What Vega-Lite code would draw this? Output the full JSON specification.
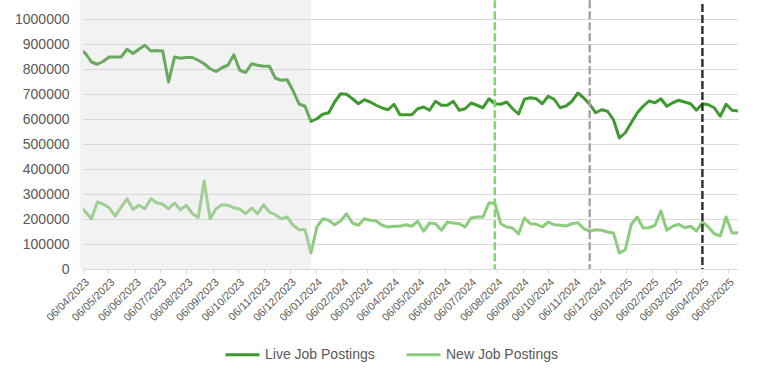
{
  "$schema": "https://vega.github.io/schema/vega-lite/v6.json",
  "width": 655,
  "height": 250,
  "autosize": {"type": "none"},
  "padding": {"left": 83, "top": 19, "right": 30, "bottom": 110},
  "background": "#ffffff",
  "config": {
    "font": "Liberation Sans",
    "view": {"stroke": null},
    "axisX": {"labelOverlap": false, "labelFlush": false},
    "axisY": {"labelOverlap": false}
  },
  "datasets": {
    "weekly": [
      {"date": "2023-04-02", "Live Job Postings": 880000, "New Job Postings": 255000},
      {"date": "2023-04-09", "Live Job Postings": 862000, "New Job Postings": 228000},
      {"date": "2023-04-16", "Live Job Postings": 828000, "New Job Postings": 201000},
      {"date": "2023-04-23", "Live Job Postings": 819000, "New Job Postings": 268000},
      {"date": "2023-04-30", "Live Job Postings": 831000, "New Job Postings": 259000},
      {"date": "2023-05-07", "Live Job Postings": 848000, "New Job Postings": 245000},
      {"date": "2023-05-14", "Live Job Postings": 848000, "New Job Postings": 211000},
      {"date": "2023-05-21", "Live Job Postings": 848000, "New Job Postings": 248000},
      {"date": "2023-05-28", "Live Job Postings": 879000, "New Job Postings": 281000},
      {"date": "2023-06-04", "Live Job Postings": 862000, "New Job Postings": 238000},
      {"date": "2023-06-11", "Live Job Postings": 879000, "New Job Postings": 255000},
      {"date": "2023-06-18", "Live Job Postings": 895000, "New Job Postings": 241000},
      {"date": "2023-06-25", "Live Job Postings": 872000, "New Job Postings": 281000},
      {"date": "2023-07-02", "Live Job Postings": 874000, "New Job Postings": 265000},
      {"date": "2023-07-09", "Live Job Postings": 872000, "New Job Postings": 259000},
      {"date": "2023-07-16", "Live Job Postings": 748000, "New Job Postings": 241000},
      {"date": "2023-07-23", "Live Job Postings": 848000, "New Job Postings": 264000},
      {"date": "2023-07-30", "Live Job Postings": 843000, "New Job Postings": 237000},
      {"date": "2023-08-06", "Live Job Postings": 846000, "New Job Postings": 255000},
      {"date": "2023-08-13", "Live Job Postings": 846000, "New Job Postings": 222000},
      {"date": "2023-08-20", "Live Job Postings": 835000, "New Job Postings": 206000},
      {"date": "2023-08-27", "Live Job Postings": 821000, "New Job Postings": 352000},
      {"date": "2023-09-03", "Live Job Postings": 801000, "New Job Postings": 201000},
      {"date": "2023-09-10", "Live Job Postings": 790000, "New Job Postings": 241000},
      {"date": "2023-09-17", "Live Job Postings": 805000, "New Job Postings": 257000},
      {"date": "2023-09-24", "Live Job Postings": 815000, "New Job Postings": 255000},
      {"date": "2023-10-01", "Live Job Postings": 857000, "New Job Postings": 245000},
      {"date": "2023-10-08", "Live Job Postings": 795000, "New Job Postings": 240000},
      {"date": "2023-10-15", "Live Job Postings": 786000, "New Job Postings": 221000},
      {"date": "2023-10-22", "Live Job Postings": 821000, "New Job Postings": 244000},
      {"date": "2023-10-29", "Live Job Postings": 815000, "New Job Postings": 221000},
      {"date": "2023-11-05", "Live Job Postings": 811000, "New Job Postings": 257000},
      {"date": "2023-11-12", "Live Job Postings": 811000, "New Job Postings": 228000},
      {"date": "2023-11-19", "Live Job Postings": 763000, "New Job Postings": 217000},
      {"date": "2023-11-26", "Live Job Postings": 755000, "New Job Postings": 201000},
      {"date": "2023-12-03", "Live Job Postings": 757000, "New Job Postings": 208000},
      {"date": "2023-12-10", "Live Job Postings": 712000, "New Job Postings": 175000},
      {"date": "2023-12-17", "Live Job Postings": 660000, "New Job Postings": 157000},
      {"date": "2023-12-24", "Live Job Postings": 651000, "New Job Postings": 157000},
      {"date": "2023-12-31", "Live Job Postings": 590000, "New Job Postings": 64000},
      {"date": "2024-01-07", "Live Job Postings": 601000, "New Job Postings": 168000},
      {"date": "2024-01-14", "Live Job Postings": 619000, "New Job Postings": 201000},
      {"date": "2024-01-21", "Live Job Postings": 625000, "New Job Postings": 195000},
      {"date": "2024-01-28", "Live Job Postings": 668000, "New Job Postings": 177000},
      {"date": "2024-02-04", "Live Job Postings": 701000, "New Job Postings": 192000},
      {"date": "2024-02-11", "Live Job Postings": 699000, "New Job Postings": 221000},
      {"date": "2024-02-18", "Live Job Postings": 681000, "New Job Postings": 184000},
      {"date": "2024-02-25", "Live Job Postings": 661000, "New Job Postings": 175000},
      {"date": "2024-03-03", "Live Job Postings": 677000, "New Job Postings": 201000},
      {"date": "2024-03-10", "Live Job Postings": 668000, "New Job Postings": 195000},
      {"date": "2024-03-17", "Live Job Postings": 655000, "New Job Postings": 192000},
      {"date": "2024-03-24", "Live Job Postings": 644000, "New Job Postings": 175000},
      {"date": "2024-03-31", "Live Job Postings": 637000, "New Job Postings": 168000},
      {"date": "2024-04-07", "Live Job Postings": 659000, "New Job Postings": 171000},
      {"date": "2024-04-14", "Live Job Postings": 617000, "New Job Postings": 171000},
      {"date": "2024-04-21", "Live Job Postings": 617000, "New Job Postings": 177000},
      {"date": "2024-04-28", "Live Job Postings": 617000, "New Job Postings": 171000},
      {"date": "2024-05-05", "Live Job Postings": 641000, "New Job Postings": 191000},
      {"date": "2024-05-12", "Live Job Postings": 648000, "New Job Postings": 151000},
      {"date": "2024-05-19", "Live Job Postings": 635000, "New Job Postings": 184000},
      {"date": "2024-05-26", "Live Job Postings": 671000, "New Job Postings": 181000},
      {"date": "2024-06-02", "Live Job Postings": 655000, "New Job Postings": 155000},
      {"date": "2024-06-09", "Live Job Postings": 655000, "New Job Postings": 188000},
      {"date": "2024-06-16", "Live Job Postings": 671000, "New Job Postings": 184000},
      {"date": "2024-06-23", "Live Job Postings": 635000, "New Job Postings": 181000},
      {"date": "2024-06-30", "Live Job Postings": 641000, "New Job Postings": 168000},
      {"date": "2024-07-07", "Live Job Postings": 664000, "New Job Postings": 204000},
      {"date": "2024-07-14", "Live Job Postings": 655000, "New Job Postings": 208000},
      {"date": "2024-07-21", "Live Job Postings": 645000, "New Job Postings": 208000},
      {"date": "2024-07-28", "Live Job Postings": 681000, "New Job Postings": 264000},
      {"date": "2024-08-04", "Live Job Postings": 661000, "New Job Postings": 264000},
      {"date": "2024-08-11", "Live Job Postings": 659000, "New Job Postings": 181000},
      {"date": "2024-08-18", "Live Job Postings": 668000, "New Job Postings": 168000},
      {"date": "2024-08-25", "Live Job Postings": 641000, "New Job Postings": 164000},
      {"date": "2024-09-01", "Live Job Postings": 620000, "New Job Postings": 141000},
      {"date": "2024-09-08", "Live Job Postings": 679000, "New Job Postings": 204000},
      {"date": "2024-09-15", "Live Job Postings": 685000, "New Job Postings": 181000},
      {"date": "2024-09-22", "Live Job Postings": 681000, "New Job Postings": 179000},
      {"date": "2024-09-29", "Live Job Postings": 661000, "New Job Postings": 168000},
      {"date": "2024-10-06", "Live Job Postings": 691000, "New Job Postings": 188000},
      {"date": "2024-10-13", "Live Job Postings": 679000, "New Job Postings": 177000},
      {"date": "2024-10-20", "Live Job Postings": 645000, "New Job Postings": 175000},
      {"date": "2024-10-27", "Live Job Postings": 652000, "New Job Postings": 172000},
      {"date": "2024-11-03", "Live Job Postings": 671000, "New Job Postings": 181000},
      {"date": "2024-11-10", "Live Job Postings": 704000, "New Job Postings": 185000},
      {"date": "2024-11-17", "Live Job Postings": 684000, "New Job Postings": 161000},
      {"date": "2024-11-24", "Live Job Postings": 659000, "New Job Postings": 152000},
      {"date": "2024-12-01", "Live Job Postings": 625000, "New Job Postings": 157000},
      {"date": "2024-12-08", "Live Job Postings": 637000, "New Job Postings": 155000},
      {"date": "2024-12-15", "Live Job Postings": 631000, "New Job Postings": 148000},
      {"date": "2024-12-22", "Live Job Postings": 597000, "New Job Postings": 144000},
      {"date": "2024-12-29", "Live Job Postings": 524000, "New Job Postings": 64000},
      {"date": "2025-01-05", "Live Job Postings": 545000, "New Job Postings": 77000},
      {"date": "2025-01-12", "Live Job Postings": 585000, "New Job Postings": 178000},
      {"date": "2025-01-19", "Live Job Postings": 624000, "New Job Postings": 208000},
      {"date": "2025-01-26", "Live Job Postings": 651000, "New Job Postings": 164000},
      {"date": "2025-02-02", "Live Job Postings": 672000, "New Job Postings": 165000},
      {"date": "2025-02-09", "Live Job Postings": 665000, "New Job Postings": 175000},
      {"date": "2025-02-16", "Live Job Postings": 681000, "New Job Postings": 232000},
      {"date": "2025-02-23", "Live Job Postings": 651000, "New Job Postings": 155000},
      {"date": "2025-03-02", "Live Job Postings": 665000, "New Job Postings": 171000},
      {"date": "2025-03-09", "Live Job Postings": 675000, "New Job Postings": 179000},
      {"date": "2025-03-16", "Live Job Postings": 668000, "New Job Postings": 165000},
      {"date": "2025-03-23", "Live Job Postings": 661000, "New Job Postings": 171000},
      {"date": "2025-03-30", "Live Job Postings": 635000, "New Job Postings": 152000},
      {"date": "2025-04-06", "Live Job Postings": 661000, "New Job Postings": 188000},
      {"date": "2025-04-13", "Live Job Postings": 657000, "New Job Postings": 168000},
      {"date": "2025-04-20", "Live Job Postings": 645000, "New Job Postings": 141000},
      {"date": "2025-04-27", "Live Job Postings": 611000, "New Job Postings": 132000},
      {"date": "2025-05-04", "Live Job Postings": 659000, "New Job Postings": 208000},
      {"date": "2025-05-11", "Live Job Postings": 635000, "New Job Postings": 144000},
      {"date": "2025-05-18", "Live Job Postings": 632000, "New Job Postings": 145000}
    ],
    "shade": [{"date": "2023-04-02", "end": "2023-12-31"}]
  },
  "encoding": {
    "x": {
      "field": "date", "type": "temporal",
      "scale": {"type": "utc", "domain": [{"year": 2023, "month": 4, "date": 6, "utc": true}, {"year": 2025, "month": 5, "date": 18, "utc": true}], "nice": false},
      "axis": {
        "title": null,
        "values": [
          {"year": 2023, "month": 4, "date": 6, "utc": true},
          {"year": 2023, "month": 5, "date": 6, "utc": true},
          {"year": 2023, "month": 6, "date": 6, "utc": true},
          {"year": 2023, "month": 7, "date": 6, "utc": true},
          {"year": 2023, "month": 8, "date": 6, "utc": true},
          {"year": 2023, "month": 9, "date": 6, "utc": true},
          {"year": 2023, "month": 10, "date": 6, "utc": true},
          {"year": 2023, "month": 11, "date": 6, "utc": true},
          {"year": 2023, "month": 12, "date": 6, "utc": true},
          {"year": 2024, "month": 1, "date": 6, "utc": true},
          {"year": 2024, "month": 2, "date": 6, "utc": true},
          {"year": 2024, "month": 3, "date": 6, "utc": true},
          {"year": 2024, "month": 4, "date": 6, "utc": true},
          {"year": 2024, "month": 5, "date": 6, "utc": true},
          {"year": 2024, "month": 6, "date": 6, "utc": true},
          {"year": 2024, "month": 7, "date": 6, "utc": true},
          {"year": 2024, "month": 8, "date": 6, "utc": true},
          {"year": 2024, "month": 9, "date": 6, "utc": true},
          {"year": 2024, "month": 10, "date": 6, "utc": true},
          {"year": 2024, "month": 11, "date": 6, "utc": true},
          {"year": 2024, "month": 12, "date": 6, "utc": true},
          {"year": 2025, "month": 1, "date": 6, "utc": true},
          {"year": 2025, "month": 2, "date": 6, "utc": true},
          {"year": 2025, "month": 3, "date": 6, "utc": true},
          {"year": 2025, "month": 4, "date": 6, "utc": true},
          {"year": 2025, "month": 5, "date": 6, "utc": true}
        ],
        "labelExpr": "utcFormat(datum.value, '%d/%m/%Y')",
        "labelAngle": -45, "labelFontSize": 11, "labelColor": "#595959",
        "labelOverlap": false, "labelFlush": false, "labelPadding": 3,
        "domainColor": "#d9d9d9", "domainWidth": 1,
        "tickColor": "#d9d9d9", "tickSize": 4, "grid": false
      }
    }
  },
  "layer": [
    {
      "data": {"name": "weekly"},
      "transform": [{"fold": ["Live Job Postings", "New Job Postings"], "as": ["series", "value"]}],
      "mark": {"type": "line", "strokeWidth": 3, "clip": true, "strokeJoin": "round"},
      "encoding": {
        "y": {
          "field": "value", "type": "quantitative",
          "scale": {"domain": [0, 1000000], "nice": false},
          "axis": {
            "title": null,
            "values": [0, 100000, 200000, 300000, 400000, 500000, 600000, 700000, 800000, 900000, 1000000],
            "format": "d", "labelFontSize": 14, "labelColor": "#595959", "labelPadding": 14,
            "labelOverlap": false,
            "domain": false, "ticks": false, "grid": true, "gridColor": "#d9d9d9", "gridWidth": 1
          }
        },
        "color": {
          "field": "series", "type": "nominal",
          "scale": {"domain": ["Live Job Postings", "New Job Postings"], "range": ["#3e9a2f", "#8dcc7d"]},
          "legend": {
            "title": null, "orient": "none", "legendX": 141, "legendY": 317,
            "direction": "horizontal", "symbolType": "stroke", "symbolSize": 1156,
            "symbolStrokeWidth": 3, "labelFontSize": 14, "labelColor": "#595959",
            "columnPadding": 25, "labelOffset": 4
          }
        }
      }
    },
    {
      "data": {"name": "shade"},
      "mark": {"type": "rect", "color": "#d2d2d2", "opacity": 0.29},
      "encoding": {
        "x2": {"field": "end"},
        "y": {
          "datum": 1075000, "type": "quantitative",
          "axis": {
            "title": null,
            "values": [0, 100000, 200000, 300000, 400000, 500000, 600000, 700000, 800000, 900000, 1000000],
            "format": "d", "labelFontSize": 14, "labelColor": "#595959", "labelPadding": 14,
            "labelOverlap": false,
            "domain": false, "ticks": false, "grid": true, "gridColor": "#d9d9d9", "gridWidth": 1
          }
        },
        "y2": {"datum": 0}
      }
    },
    {
      "data": {"values": [{"date": "2024-08-04"}]},
      "mark": {"type": "rule", "color": "#7fd66b", "strokeWidth": 2.5, "strokeDash": [8, 3]},
      "encoding": {
        "y": {
          "datum": 1075000, "type": "quantitative",
          "axis": {
            "title": null,
            "values": [0, 100000, 200000, 300000, 400000, 500000, 600000, 700000, 800000, 900000, 1000000],
            "format": "d", "labelFontSize": 14, "labelColor": "#595959", "labelPadding": 14,
            "labelOverlap": false,
            "domain": false, "ticks": false, "grid": true, "gridColor": "#d9d9d9", "gridWidth": 1
          }
        },
        "y2": {"datum": 0}
      }
    },
    {
      "data": {"values": [{"date": "2024-11-24"}]},
      "mark": {"type": "rule", "color": "#a6a6a6", "strokeWidth": 2.5, "strokeDash": [8, 3]},
      "encoding": {
        "y": {
          "datum": 1075000, "type": "quantitative",
          "axis": {
            "title": null,
            "values": [0, 100000, 200000, 300000, 400000, 500000, 600000, 700000, 800000, 900000, 1000000],
            "format": "d", "labelFontSize": 14, "labelColor": "#595959", "labelPadding": 14,
            "labelOverlap": false,
            "domain": false, "ticks": false, "grid": true, "gridColor": "#d9d9d9", "gridWidth": 1
          }
        },
        "y2": {"datum": 0}
      }
    },
    {
      "data": {"values": [{"date": "2025-04-06"}]},
      "mark": {"type": "rule", "color": "#333333", "strokeWidth": 2.5, "strokeDash": [8, 3]},
      "encoding": {
        "y": {
          "datum": 1060000, "type": "quantitative",
          "axis": {
            "title": null,
            "values": [0, 100000, 200000, 300000, 400000, 500000, 600000, 700000, 800000, 900000, 1000000],
            "format": "d", "labelFontSize": 14, "labelColor": "#595959", "labelPadding": 14,
            "labelOverlap": false,
            "domain": false, "ticks": false, "grid": true, "gridColor": "#d9d9d9", "gridWidth": 1
          }
        },
        "y2": {"datum": 0}
      }
    }
  ]
}
